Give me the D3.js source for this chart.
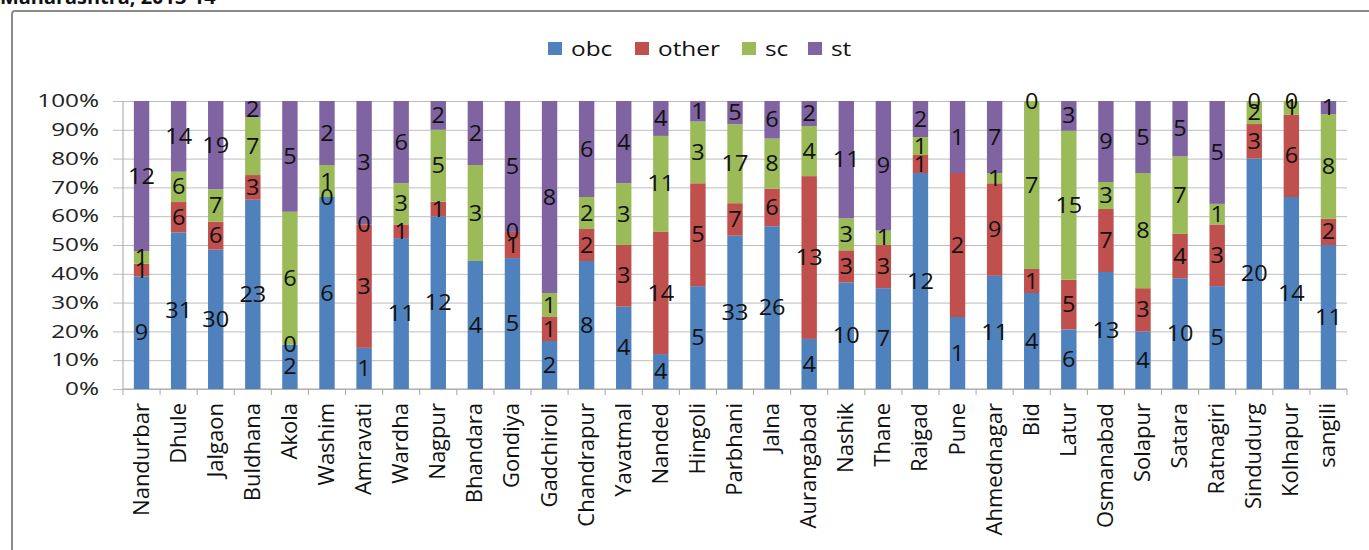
<!DOCTYPE html>
<html>
<head>
<meta charset="utf-8">
<script src="https://cdn.jsdelivr.net/npm/d3@7/dist/d3.min.js"></script>
<style>
  html, body { margin: 0; padding: 0; background: #fff; }
  svg { display: block; }
  text { font-family: "Open Sans", "DejaVu Sans", sans-serif; }
</style>
</head>
<body>
<svg id="chart" width="1369" height="550"></svg>
<script>
// Districts of Maharashtra, in axis order
const categories = ["Nandurbar","Dhule","Jalgaon","Buldhana","Akola","Washim","Amravati","Wardha","Nagpur","Bhandara","Gondiya","Gadchiroli","Chandrapur","Yavatmal","Nanded","Hingoli","Parbhani","Jalna","Aurangabad","Nashik","Thane","Raigad","Pune","Ahmednagar","Bid","Latur","Osmanabad","Solapur","Satara","Ratnagiri","Sindudurg","Kolhapur","sangili"];

// Counts per caste group (null = no entry)
const obc   = [9,31,30,23,2,6,1,11,12,4,5,2,8,4,4,5,33,26,4,10,7,12,1,11,4,6,13,4,10,5,20,14,11];
const other = [1,6,6,3,0,0,3,1,1,null,1,1,2,3,14,5,7,6,13,3,3,1,2,9,1,5,7,3,4,3,3,6,2];
const sc    = [1,6,7,7,6,1,0,3,5,3,0,1,2,3,11,3,17,8,4,3,1,1,null,1,7,15,3,8,7,1,2,1,8];
const st    = [12,14,19,2,5,2,3,6,2,2,5,8,6,4,4,1,5,6,2,11,9,2,1,7,0,3,9,5,5,5,0,0,1];

const seriesKeys = ["obc","other","sc","st"];
const seriesColors = ["#4F81BD","#C0504D","#9BBB59","#8064A2"];
const yTicks = [0,0.1,0.2,0.3,0.4,0.5,0.6,0.7,0.8,0.9,1];
const titleText = "Maharashtra, 2013-14";

const seriesValues = { obc, other, sc, st };
const rows = categories.map((c, i) => {
  const r = { district: c };
  seriesKeys.forEach(k => { r[k] = seriesValues[k][i]; });
  return r;
});

const svg = d3.select("#chart");
const W = 1369, H = 550;
const plot = { left: 123, right: 1347, top: 101, bottom: 389 };

svg.append("rect").attr("width", W).attr("height", H).attr("fill", "#fff");

// chart frame
svg.append("rect")
  .attr("x", 12).attr("y", 11)
  .attr("width", W + 20).attr("height", H + 20)
  .attr("rx", 3)
  .attr("fill", "none")
  .attr("stroke", "#8a8a8a")
  .attr("stroke-width", 2);

// title (last line)
svg.append("text")
  .attr("x", 0).attr("y", 4)
  .attr("font-weight", "bold")
  .attr("font-size", 19)
  .attr("fill", "#111")
  .attr("transform", "scale(1.05,1)")
  .text(titleText);

const x = d3.scaleBand()
  .domain(categories)
  .range([plot.left, plot.right])
  .paddingInner(0.585)
  .paddingOuter(0.2925);

const y = d3.scaleLinear().domain([0, 1]).range([plot.bottom, plot.top]);
const color = d3.scaleOrdinal().domain(seriesKeys).range(seriesColors);

// gridlines + y tick labels
const yAxis = d3.axisLeft(y)
  .tickValues(yTicks)
  .tickFormat(d3.format(".0%"))
  .tickSize(-(plot.right - (plot.left - 10)))
  .tickPadding(14);

const gy = svg.append("g")
  .attr("transform", `translate(${plot.left - 10},0)`)
  .call(yAxis);
gy.select(".domain").remove();
gy.selectAll(".tick line").attr("stroke", "#bdbdbd").attr("stroke-width", 1);
gy.selectAll(".tick text")
  .attr("font-size", 18)
  .attr("fill", "#222")
  .attr("font-family", "Open Sans")
  .each(function () {
    const t = d3.select(this);
    const tx = +t.attr("x");
    t.attr("transform", `translate(${tx},0) scale(1.35,1)`).attr("x", 0);
  });

// y axis line
svg.append("line")
  .attr("x1", plot.left).attr("x2", plot.left)
  .attr("y1", plot.top).attr("y2", plot.bottom)
  .attr("stroke", "#a6a6a6");

// x axis line and category boundary ticks
svg.append("line")
  .attr("x1", plot.left).attr("x2", plot.right)
  .attr("y1", plot.bottom).attr("y2", plot.bottom)
  .attr("stroke", "#a6a6a6");

const step = x.step();
const boundaries = categories.map(c => x(c) - (step - x.bandwidth()) / 2).concat([plot.right]);
svg.append("g").selectAll("line")
  .data(boundaries)
  .join("line")
  .attr("x1", d => d).attr("x2", d => d)
  .attr("y1", plot.bottom).attr("y2", plot.bottom + 6)
  .attr("stroke", "#a6a6a6");

// stacked 100% bars
const stack = d3.stack()
  .keys(seriesKeys)
  .value((d, k) => d[k] == null ? 0 : d[k])
  .offset(d3.stackOffsetExpand);
const stacked = stack(rows);

const layers = svg.append("g").selectAll("g")
  .data(stacked)
  .join("g")
  .attr("fill", d => color(d.key));

layers.selectAll("rect")
  .data(d => d)
  .join("rect")
  .attr("x", d => x(d.data.district))
  .attr("width", x.bandwidth())
  .attr("y", d => y(d[1]))
  .attr("height", d => y(d[0]) - y(d[1]));

// value labels
const labelData = [];
stacked.forEach(layer => {
  layer.forEach(seg => {
    const v = seg.data[layer.key];
    if (v == null) return;
    labelData.push({
      cx: x(seg.data.district) + x.bandwidth() / 2,
      cy: y((seg[0] + seg[1]) / 2),
      v
    });
  });
});

svg.append("g").selectAll("text")
  .data(labelData)
  .join("text")
  .attr("transform", d => `translate(${d.cx},${d.cy}) scale(1.12,1)`)
  .attr("text-anchor", "middle")
  .attr("dy", "0.36em")
  .attr("font-size", 21)
  .attr("fill", "#111")
  .text(d => d.v);

// rotated category labels
svg.append("g").selectAll("text")
  .data(categories)
  .join("text")
  .attr("transform", d => `translate(${x(d) + x.bandwidth() / 2 + 7},${plot.bottom + 14}) rotate(-90)`)
  .attr("text-anchor", "end")
  .attr("font-size", 22)
  .attr("fill", "#111")
  .text(d => d);

// legend
const legendItems = [
  { key: "obc", x: 548 },
  { key: "other", x: 635 },
  { key: "sc", x: 742 },
  { key: "st", x: 808 }
];
const lg = svg.append("g").selectAll("g")
  .data(legendItems)
  .join("g")
  .attr("transform", d => `translate(${d.x},42)`);
lg.append("rect")
  .attr("width", 14).attr("height", 13)
  .attr("fill", d => color(d.key));
lg.append("text")
  .attr("transform", "translate(23,6.5) scale(1.22,1)")
  .attr("dy", "0.36em")
  .attr("font-size", 20)
  .attr("fill", "#111")
  .text(d => d.key);
</script>
</body>
</html>
